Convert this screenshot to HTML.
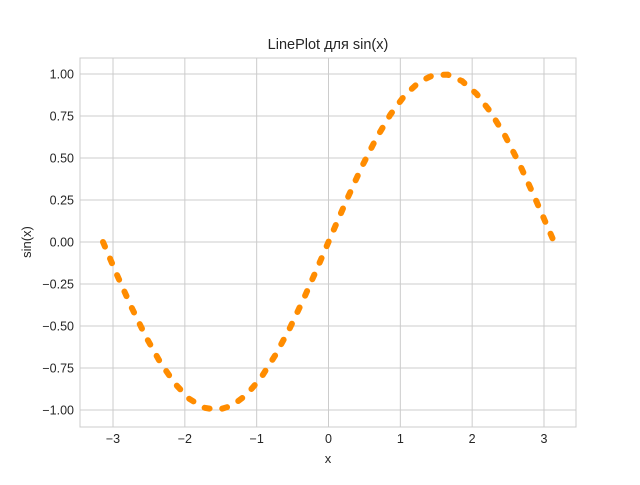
<!DOCTYPE html>
<html><head><meta charset="utf-8"><style>
body{margin:0;background:#fff}
svg text{font-family:"Liberation Sans","DejaVu Sans",sans-serif;fill:#262626}
</style></head><body>
<svg id="chart" width="640" height="480" xmlns="http://www.w3.org/2000/svg">
<rect width="640" height="480" fill="#fff"/>
<g id="grid"></g>
<rect x="80" y="58" width="496" height="369" fill="none" stroke="#cccccc" stroke-width="1"/>
<g id="ticks"></g>
<path id="line" fill="none" stroke="#ff8c00" stroke-width="6" stroke-linecap="round" stroke-dasharray="5 13"/>
<text x="328" y="49" text-anchor="middle" font-size="14.5">LinePlot для sin(x)</text>
<text x="328" y="463" text-anchor="middle" font-size="13">x</text>
<text transform="translate(31,242) rotate(-90)" text-anchor="middle" font-size="13">sin(x)</text>
</svg>
<script>
const xVals=[-3.14,-2.94,-2.74,-2.54,-2.34,-2.14,-1.94,-1.74,-1.54,-1.34,-1.14,-0.94,-0.74,-0.54,-0.34,-0.14,0.06,0.26,0.46,0.66,0.86,1.06,1.26,1.46,1.66,1.86,2.06,2.26,2.46,2.66,2.86,3.06,3.14];
const yVals=[0.00,-0.200,-0.391,-0.566,-0.718,-0.842,-0.933,-0.986,-1.000,-0.974,-0.909,-0.808,-0.674,-0.514,-0.333,-0.140,0.060,0.257,0.444,0.613,0.758,0.872,0.952,0.994,0.996,0.958,0.882,0.772,0.631,0.463,0.276,0.080,0.002];
const xTicks=[-3,-2,-1,0,1,2,3];
const xTickLabels=["\u22123","\u22122","\u22121","0","1","2","3"];
const yTicks=[-1,-0.75,-0.5,-0.25,0,0.25,0.5,0.75,1];
const yTickLabels=["\u22121.00","\u22120.75","\u22120.50","\u22120.25","0.00","0.25","0.50","0.75","1.00"];
const NS="http://www.w3.org/2000/svg";
const sx=v=>328.5+v*71.83, sy=v=>242-v*168;
const grid=document.getElementById('grid'), ticks=document.getElementById('ticks');
function mk(tag,attrs,parent,txt){const e=document.createElementNS(NS,tag);for(const k in attrs)e.setAttribute(k,attrs[k]);if(txt!==undefined)e.textContent=txt;parent.appendChild(e);return e;}
xTicks.forEach((t,i)=>{
  const g=mk('line',{x1:sx(t),x2:sx(t),y1:58,y2:427,stroke:'#cccccc','stroke-width':1},grid);
  
  
  const l=mk('text',{x:sx(t),y:443,'text-anchor':'middle','font-size':12.5},ticks,xTickLabels[i]);
  
  
});
yTicks.forEach((t,i)=>{
  const g=mk('line',{x1:80,x2:576,y1:sy(t),y2:sy(t),stroke:'#cccccc','stroke-width':1},grid);
  
  
  const l=mk('text',{x:74,y:sy(t)+4.5,'text-anchor':'end','font-size':12.5},ticks,yTickLabels[i]);
  
  
});
document.getElementById('line').setAttribute('d',xVals.map((x,i)=>(i?'L':'M')+sx(x).toFixed(1)+' '+sy(yVals[i]).toFixed(1)).join(' '));
</script>
</body></html>
